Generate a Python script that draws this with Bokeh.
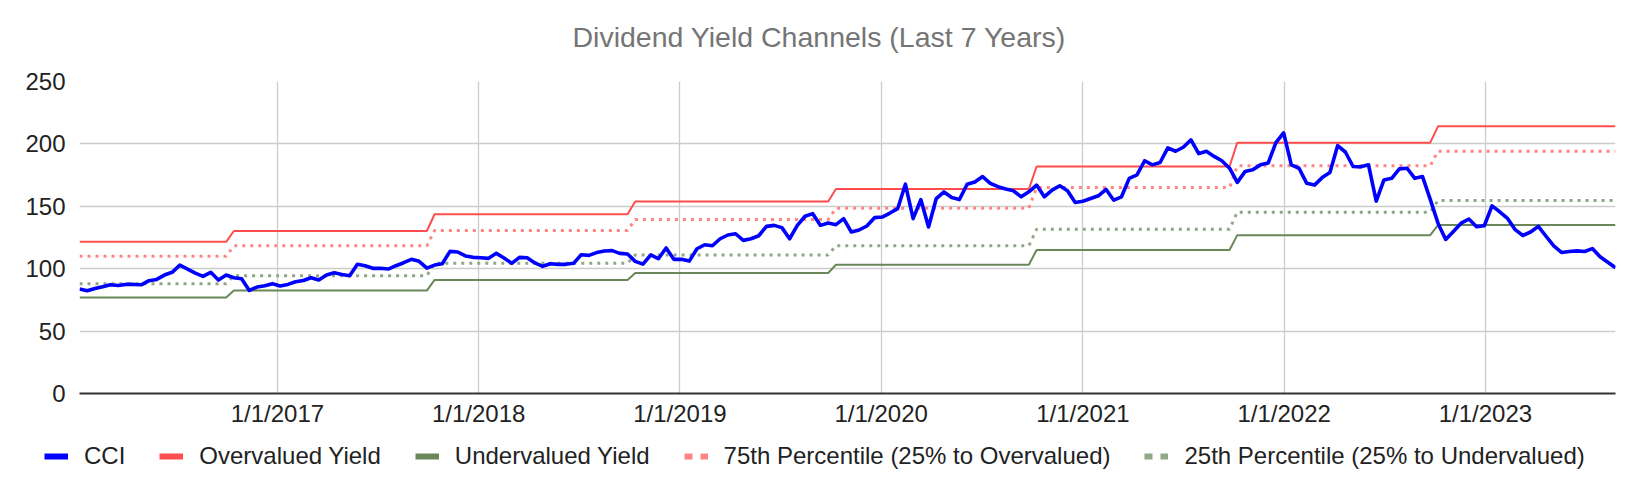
import numpy as np
import pandas as pd
from bokeh.plotting import figure
from bokeh.models import Range1d, FixedTicker, Legend, LegendItem, ColumnDataSource, Label
from bokeh.embed import file_html
from bokeh.resources import INLINE

# ---------------- data ----------------
title_text = "Dividend Yield Channels (Last 7 Years)"
series_names = ["CCI", "Overvalued Yield", "Undervalued Yield",
                "75th Percentile (25% to Overvalued)", "25th Percentile (25% to Undervalued)"]

first_date = "2016-01-08"   # bi-weekly observations
cci = [
    83.7, 82.3, 84.2, 85.5, 87.1, 86.6, 87.4, 87.4, 87.1, 90.4,
    91.4, 94.9, 97.1, 102.9, 99.7, 96.5, 93.8, 97.1, 90.9, 94.9,
    92.8, 92.0, 82.6, 85.3, 86.3, 88.0, 86.1, 87.4, 89.6, 90.6,
    92.8, 90.9, 94.9, 96.8, 95.4, 94.4, 103.5, 102.4, 100.3, 100.3,
    99.7, 102.4, 104.8, 107.5, 105.9, 100.5, 102.9, 104.0, 113.9, 113.4,
    110.2, 109.1, 108.8, 108.3, 112.3, 108.6, 104.3, 109.1, 108.8, 104.6,
    101.9, 104.0, 103.5, 103.5, 104.3, 111.2, 110.7, 112.9, 114.2, 114.5,
    112.3, 111.8, 105.9, 103.7, 111.0, 108.0, 116.6, 107.5, 107.5, 106.1,
    116.0, 119.2, 118.4, 124.0, 127.0, 128.0, 122.7, 124.0, 126.4, 133.9,
    134.7, 132.9, 124.0, 134.7, 142.0, 144.1, 134.7, 136.6, 135.3, 140.1,
    129.4, 131.0, 134.2, 140.9, 141.4, 144.6, 148.1, 167.7, 140.1, 155.4,
    133.4, 156.2, 161.5, 157.0, 155.4, 167.7, 169.5, 173.8, 168.4, 165.7,
    163.8, 162.4, 157.6, 161.6, 167.0, 157.6, 163.0, 166.5, 162.4, 153.0,
    154.1, 156.2, 158.4, 163.5, 154.9, 157.6, 172.4, 175.1, 186.5, 183.2,
    185.1, 196.8, 194.1, 197.3, 203.2, 192.2, 194.1, 190.0, 186.5, 180.5,
    169.2, 177.8, 179.2, 183.2, 184.6, 201.0, 208.9, 183.2, 180.5, 168.4,
    167.0, 173.0, 177.0, 198.6, 193.5, 181.9, 181.6, 183.2, 154.1, 171.1,
    172.4, 180.0, 180.5, 172.4, 173.8, 155.5, 136.5, 123.4, 129.9, 136.5,
    139.8, 133.6, 134.4, 150.3, 145.6, 140.4, 131.3, 126.6, 129.4, 133.9,
    126.0, 118.2, 113.0, 113.8, 114.3, 113.8, 116.1, 109.6, 105.2, 100.8,
]

# yearly channel levels and the date each level starts
channel_starts = ["2016-01-08", "2016-10-14", "2017-10-13", "2018-10-12",
                  "2019-10-11", "2020-10-09", "2021-10-08", "2022-10-07"]
overvalued = [121.5, 130.2, 143.6, 153.8, 163.8, 181.9, 201.0, 214.1]
undervalued = [77.0, 82.5, 91.0, 96.6, 103.2, 115.0, 126.9, 135.0]
pct75 = [110.0, 118.3, 130.6, 139.5, 148.5, 165.0, 182.4, 194.2]
pct25 = [88.0, 94.4, 104.3, 111.0, 118.4, 131.6, 145.3, 154.6]

x_tick_dates = ["2017-01-01", "2018-01-01", "2019-01-01", "2020-01-01",
                "2021-01-01", "2022-01-01", "2023-01-01"]
x_tick_labels = ["1/1/2017", "1/1/2018", "1/1/2019", "1/1/2020",
                 "1/1/2021", "1/1/2022", "1/1/2023"]
y_ticks = [0, 50, 100, 150, 200, 250]

# ---------------- table ----------------
dates = pd.date_range(first_date, periods=len(cci), freq="14D")
seg = np.searchsorted(pd.to_datetime(channel_starts).values, dates.values, side="right") - 1
src = ColumnDataSource(dict(
    date=dates,
    cci=cci,
    over=np.array(overvalued)[seg],
    under=np.array(undervalued)[seg],
    p75=np.array(pct75)[seg],
    p25=np.array(pct25)[seg],
))

FONT = "Liberation Sans"
C_BLUE = "#0000ff"
C_RED = "#ff4d4d"
C_GREEN = "#6a8759"
C_PINK = "#ff8585"
C_LGREEN = "#8fa886"

W = 1624
H_TITLE = 61
H_MAIN = 369
H_LEG = 48

# ---------------- title strip ----------------
t = figure(width=W, height=H_TITLE, output_backend="svg", toolbar_location=None,
           x_range=Range1d(0, W), y_range=Range1d(0, H_TITLE),
           x_axis_location=None, y_axis_location=None,
           min_border_left=0, min_border_right=0, min_border_top=0, min_border_bottom=0)
t.outline_line_color = None
t.grid.visible = False
t.background_fill_color = "white"
t.border_fill_color = "white"
t.add_layout(Label(x=572, y=24.5, text=title_text, text_align="left",
                   text_baseline="alphabetic", text_font=FONT,
                   text_font_size="28.5px", text_color="#757575"))

# ---------------- main chart ----------------
p = figure(width=W, height=H_MAIN, output_backend="svg", toolbar_location=None,
           x_axis_type="datetime",
           x_range=Range1d(dates[0], dates[-1]), y_range=Range1d(0, 250),
           min_border_left=79, min_border_right=9, min_border_top=20, min_border_bottom=37)
p.outline_line_color = None
p.background_fill_color = "white"
p.border_fill_color = "white"

p.line("date", "over", source=src, line_color=C_RED, line_width=2)
p.line("date", "under", source=src, line_color=C_GREEN, line_width=2)
p.line("date", "p75", source=src, line_color=C_PINK, line_width=3, line_dash="3 5")
p.line("date", "p25", source=src, line_color=C_LGREEN, line_width=3, line_dash="3 5")
p.line("date", "cci", source=src, line_color=C_BLUE, line_width=3.6, line_join="round")

tick_ms = [int(pd.Timestamp(d).value // 10**6) for d in x_tick_dates]
p.xaxis.ticker = FixedTicker(ticks=tick_ms)
p.xaxis.major_label_overrides = {t_: lab for t_, lab in zip(tick_ms, x_tick_labels)}
p.xaxis.axis_line_color = "#333333"
p.xaxis.axis_line_width = 2
p.xaxis.major_tick_line_color = None
p.xaxis.minor_tick_line_color = None
p.xaxis.major_label_standoff = 0
p.xaxis.major_label_text_font = FONT
p.xaxis.major_label_text_font_size = "24px"
p.xaxis.major_label_text_color = "#222222"

p.yaxis.ticker = FixedTicker(ticks=y_ticks)
p.yaxis.axis_line_color = None
p.yaxis.major_tick_line_color = None
p.yaxis.minor_tick_line_color = None
p.yaxis.major_label_standoff = 8
p.yaxis.major_label_text_font = FONT
p.yaxis.major_label_text_font_size = "24px"
p.yaxis.major_label_text_color = "#222222"

p.xgrid.grid_line_color = "#cccccc"
p.xgrid.grid_line_width = 1.3
p.ygrid.grid_line_color = "#cccccc"
p.ygrid.grid_line_width = 1.3

# ---------------- legend strip ----------------
q = figure(width=W, height=H_LEG, output_backend="svg", toolbar_location=None,
           x_range=Range1d(0, 1), y_range=Range1d(0, 1),
           x_axis_location=None, y_axis_location=None,
           min_border_left=0, min_border_right=0, min_border_top=0, min_border_bottom=0)
q.outline_line_color = None
q.grid.visible = False
q.background_fill_color = "white"
q.border_fill_color = "white"

sw = [
    q.line([0, 1], [np.nan, np.nan], line_color=C_BLUE, line_width=6),
    q.line([0, 1], [np.nan, np.nan], line_color=C_RED, line_width=6),
    q.line([0, 1], [np.nan, np.nan], line_color=C_GREEN, line_width=6),
    q.line([0, 1], [np.nan, np.nan], line_color=C_PINK, line_width=6, line_dash="8 8"),
    q.line([0, 1], [np.nan, np.nan], line_color=C_LGREEN, line_width=6, line_dash="8 8"),
]
legend = Legend(items=[LegendItem(label=n, renderers=[r]) for n, r in zip(series_names, sw)],
                orientation="horizontal", location=(44, 8),
                glyph_width=24, glyph_height=24, label_height=24,
                label_standoff=16, spacing=34, padding=0, margin=0,
                border_line_color=None, background_fill_alpha=0,
                label_text_font=FONT, label_text_font_size="24px",
                label_text_color="#222222")
q.add_layout(legend, "center")

open("out.html", "w").write(file_html([t, p, q], INLINE))
